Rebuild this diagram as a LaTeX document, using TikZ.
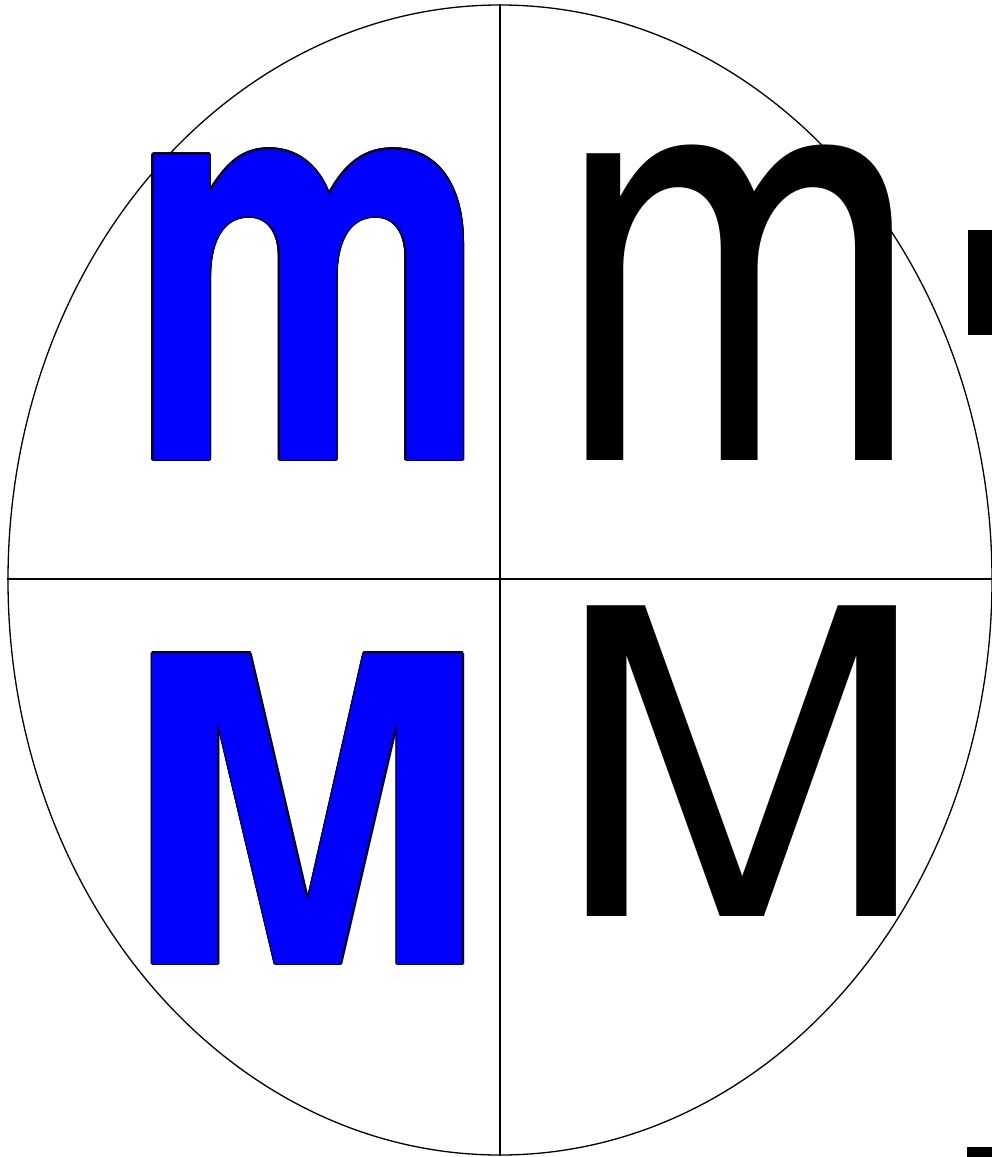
\documentclass[tikz,border=0pt]{standalone}
\usepackage{fontspec}
\usetikzlibrary{shapes.geometric}
\setmainfont{TeX Gyre Heros}
\begin{document}
\begin{tikzpicture}[x=1pt,y=-1pt,
  frame/.style={line width=1.3pt,black},
  glyph/.style={inner sep=0pt,outer sep=0pt,anchor=base west,font=\fontsize{100}{100}\selectfont},
  bglyph/.style={inner sep=0pt,outer sep=0pt,anchor=base west,font=\fontsize{100}{100}\selectfont\bfseries}]
\useasboundingbox (0,0) rectangle (992,1157);
\node[draw,frame,ellipse,minimum width=984pt,minimum height=1150pt,inner sep=0pt] (ell) at (500,580) {};
\coordinate (ctr) at (500,579);
\draw[frame] (ell.north) -- (ell.south);
\draw[frame] (ell.west |- ctr) -- (ell.east |- ctr);
% black letters
\node[glyph] (km) at (555.2,460) {\scalebox{4.432}[5.855]{m}};
\node[glyph] (kM) at (553.1,916) {\scalebox{4.506}[4.263]{M}};
% blue letters with black outline
\foreach \a in {0,30,...,330}{
  \node[bglyph,shift={(\a:1.2)}] at (129,460) {\scalebox{4.055}[5.66]{\color{black}m}};
  \node[bglyph,shift={(\a:1.2)}] at (123.8,964) {\scalebox{4.371}[4.263]{\color{black}M}};
}
\node[bglyph] (bm) at (129,460) {\scalebox{4.055}[5.66]{\color{blue}m}};
\node[bglyph] (bM) at (123.8,964) {\scalebox{4.371}[4.263]{\color{blue}M}};
% cut-off fragments at the right edge
\fill (968,230) rectangle (992,335);
\fill (967,1147) rectangle (992,1157);
\end{tikzpicture}
\end{document}
